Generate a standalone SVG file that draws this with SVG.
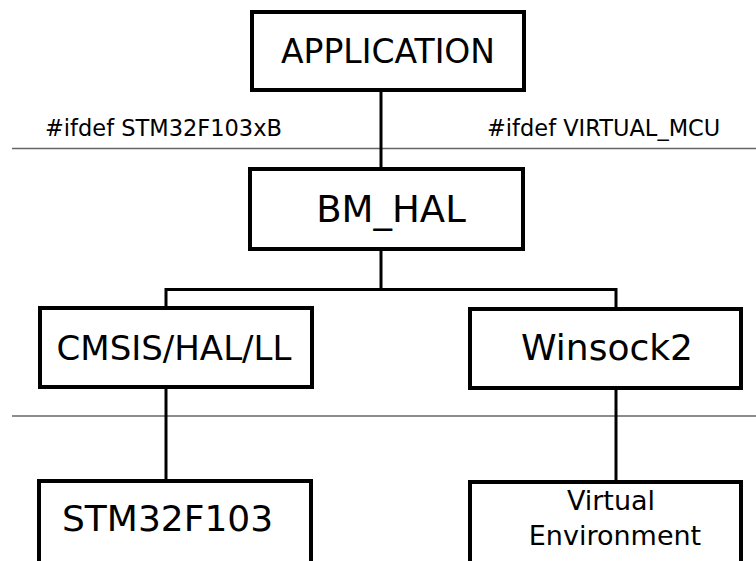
<svg xmlns="http://www.w3.org/2000/svg" width="756" height="561" viewBox="0 0 756 561">
<style>
.box{fill:#fff;stroke:#000;stroke-width:4}
.t{font-family:"DejaVu Sans",Verdana,sans-serif;fill:#000}
.sep{stroke:#666;stroke-width:1.5;fill:none}
.c{stroke:#000;stroke-width:3;fill:none}
</style>
<rect width="756" height="561" fill="#fff"/>
<g id="separators">
<line class="sep" x1="12" y1="148.5" x2="756" y2="148.5"/>
<line class="sep" x1="12" y1="416" x2="756" y2="416"/>
</g>
<g id="labels">
<text class="t" x="45" y="136" font-size="22.5">#ifdef STM32F103xB</text>
<text class="t" x="487" y="136" font-size="22.5">#ifdef VIRTUAL_MCU</text>
</g>
<g id="connectors">
<line class="c" x1="381" y1="90" x2="381" y2="167"/>
<polyline class="c" points="166,306 166,289.5 616,289.5 616,307"/>
<line class="c" x1="381" y1="250" x2="381" y2="289.5"/>
<line class="c" x1="166" y1="389" x2="166" y2="479"/>
<line class="c" x1="616" y1="390" x2="616" y2="480"/>
</g>
<g id="application">
<rect class="box" x="252" y="12" width="272" height="78"/>
<text class="t" x="388" y="63" font-size="33" text-anchor="middle">APPLICATION</text>
</g>
<g id="bm_hal">
<rect class="box" x="250" y="169" width="273" height="80"/>
<text class="t" x="391" y="222" font-size="37" text-anchor="middle">BM_HAL</text>
</g>
<g id="cmsis">
<rect class="box" x="40" y="308" width="272" height="79"/>
<text class="t" x="174" y="360" font-size="34" text-anchor="middle">CMSIS/HAL/LL</text>
</g>
<g id="winsock2">
<rect class="box" x="470" y="309" width="271" height="79"/>
<text class="t" x="607" y="360" font-size="36" text-anchor="middle">Winsock2</text>
</g>
<g id="stm32f103">
<rect class="box" x="39" y="481" width="272" height="100"/>
<text class="t" x="62" y="531" font-size="36">STM32F103</text>
</g>
<g id="virtual_env">
<rect class="box" x="470" y="482" width="271" height="100"/>
<text class="t" x="611" y="510" font-size="27" text-anchor="middle">Virtual</text>
<text class="t" x="615" y="545" font-size="27" text-anchor="middle">Environment</text>
</g>
</svg>
